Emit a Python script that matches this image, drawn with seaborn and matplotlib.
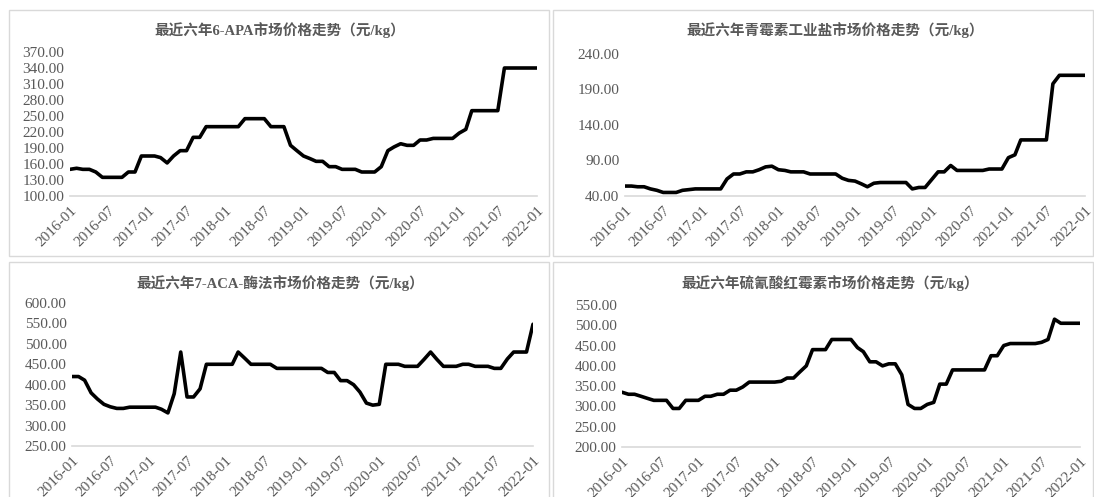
import pandas as pd
import matplotlib
matplotlib.use('Agg')
import matplotlib.pyplot as plt
import matplotlib.dates as mdates
from matplotlib.patches import Rectangle
from matplotlib.ticker import FormatStrFormatter
import seaborn as sns

# ---- data (monthly, 2016-01 .. 2022-01) ----
months = pd.date_range('2016-01-01', '2022-01-01', freq='MS')

apa_6 = [150, 152, 150, 150, 145, 135, 135, 135, 135, 145, 145, 175,
         175, 175, 172, 162, 175, 185, 185, 210, 210, 230, 230, 230,
         230, 230, 230, 245, 245, 245, 245, 230, 230, 230, 195, 185,
         175, 170, 165, 165, 155, 155, 150, 150, 150, 145, 145, 145,
         155, 185, 192, 198, 195, 195, 205, 205, 208, 208, 208, 208,
         218, 225, 260, 260, 260, 260, 260, 340, 340, 340, 340, 340,
         340]

penicillin_salt = [54, 54, 53, 53, 50, 48, 45, 45, 45, 48, 49, 50,
                   50, 50, 50, 50, 64, 71, 71, 74, 74, 77, 81, 82,
                   77, 76, 74, 74, 74, 71, 71, 71, 71, 71, 65, 62,
                   61, 57, 53, 58, 59, 59, 59, 59, 59, 50, 52, 52,
                   63, 74, 74, 83, 76, 76, 76, 76, 76, 78, 78, 78,
                   94, 98, 119, 119, 119, 119, 119, 198, 210, 210, 210, 210,
                   210]

aca_7 = [420, 420, 411, 380, 365, 352, 346, 342, 342, 345, 345, 345,
         345, 345, 340, 331, 378, 480, 370, 370, 390, 450, 450, 450,
         450, 450, 480, 465, 450, 450, 450, 450, 440, 440, 440, 440,
         440, 440, 440, 440, 430, 430, 410, 410, 400, 382, 355, 350,
         352, 450, 450, 450, 445, 445, 445, 462, 480, 462, 445, 445,
         445, 450, 450, 445, 445, 445, 440, 440, 463, 480, 480, 480,
         548]

erythromycin = [335, 330, 330, 325, 320, 315, 315, 315, 295, 295, 315, 315,
                315, 325, 325, 330, 330, 340, 340, 348, 360, 360, 360, 360,
                360, 362, 370, 370, 385, 400, 440, 440, 440, 465, 465, 465,
                465, 445, 435, 410, 410, 400, 405, 405, 378, 305, 295, 295,
                305, 310, 355, 355, 390, 390, 390, 390, 390, 390, 425, 425,
                450, 455, 455, 455, 455, 455, 458, 465, 515, 505, 505, 505,
                505]

titles = ['最近六年6-APA市场价格走势（元/kg）',
          '最近六年青霉素工业盐市场价格走势（元/kg）',
          '最近六年7-ACA-酶法市场价格走势（元/kg）',
          '最近六年硫氰酸红霉素市场价格走势（元/kg）']
series = [apa_6, penicillin_salt, aca_7, erythromycin]
y_ranges = [(100, 370, 30), (40, 240, 50), (250, 600, 50), (200, 550, 50)]

# ---- layout (figure fractions) ----
W, H = 1094, 497
axes_px = [(70, 537, 52, 196), (625, 1085, 54, 196),
           (72, 533, 303, 446), (622, 1080, 305, 447)]
title_px = [(280, 30), (835, 30), (280, 283), (830, 283)]
boxes_px = [(9, 10, 549, 256), (553, 10, 1093, 256),
            (9, 262, 549, 500), (553, 262, 1093, 500)]

sns.set_style('white')
plt.rcParams['font.family'] = ['Liberation Serif', 'Noto Sans CJK SC']

GREY = '#595959'
LIGHT = '#d9d9d9'

fig = plt.figure(figsize=(W / 100, H / 100), dpi=100)

for (x0, y0, x1, y1) in boxes_px:
    fig.patches.append(Rectangle((x0 / W, 1 - y1 / H), (x1 - x0) / W, (y1 - y0) / H,
                                 transform=fig.transFigure, fill=False,
                                 edgecolor=LIGHT, linewidth=1))

six_month_ticks = pd.date_range('2016-01-01', '2022-01-01', freq='6MS')

for i in range(4):
    l, r, t, b = axes_px[i]
    ax = fig.add_axes([l / W, 1 - b / H, (r - l) / W, (b - t) / H])
    sns.lineplot(x=months, y=series[i], ax=ax, color='black', linewidth=2.6)

    lo, hi, step = y_ranges[i]
    ax.set_ylim(lo, hi)
    ax.set_yticks(list(range(lo, hi + 1, step)))
    ax.yaxis.set_major_formatter(FormatStrFormatter('%.2f'))
    ax.set_xlim(months[0], months[-1])
    ax.set_xticks(six_month_ticks)
    ax.xaxis.set_major_formatter(mdates.DateFormatter('%Y-%m'))
    plt.setp(ax.get_xticklabels(), rotation=45, ha='right', rotation_mode='anchor')

    for side in ['top', 'right', 'left']:
        ax.spines[side].set_visible(False)
    ax.spines['bottom'].set_color(LIGHT)
    ax.spines['bottom'].set_linewidth(1.2)
    ax.tick_params(axis='x', length=4, color=LIGHT, labelsize=11, labelcolor=GREY, pad=2)
    ax.tick_params(axis='y', length=0, labelsize=11, labelcolor=GREY, pad=4)
    ax.set_xlabel('')
    ax.set_ylabel('')
    ax.patch.set_alpha(0)

    tx, ty = title_px[i]
    fig.text(tx / W, 1 - ty / H, titles[i], ha='center', va='center',
             fontsize=10.5, fontweight='bold', color=GREY)

fig.savefig('out.png', dpi=100)
